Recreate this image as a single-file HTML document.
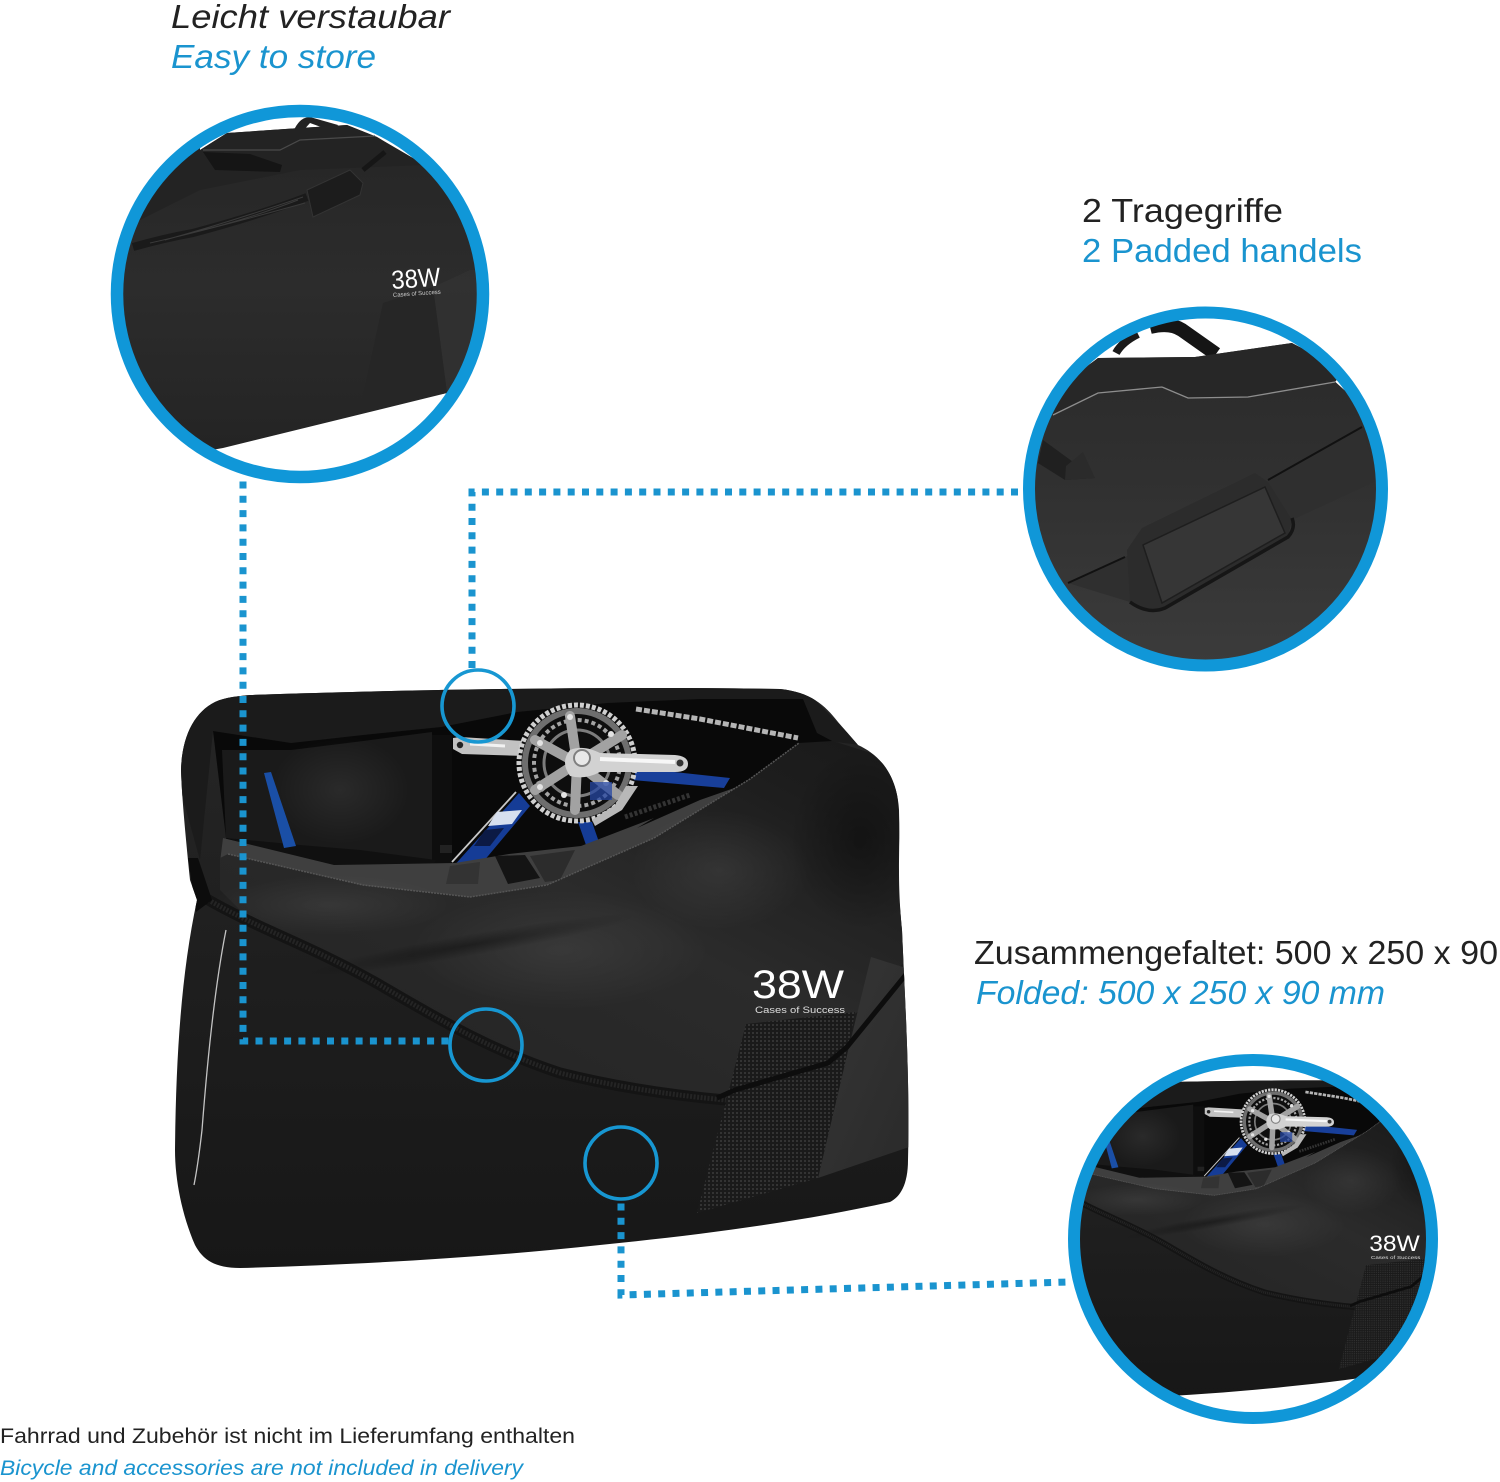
<!DOCTYPE html>
<html><head><meta charset="utf-8"><style>
html,body{margin:0;padding:0;background:#fff}
svg{display:block}
text{font-family:"Liberation Sans",sans-serif}
</style></head><body>
<svg width="1500" height="1482" viewBox="0 0 1500 1482" xmlns="http://www.w3.org/2000/svg">
<defs>
<linearGradient id="body" x1="0" y1="0" x2="0" y2="1"><stop offset="0" stop-color="#262626"/><stop offset=".5" stop-color="#1e1e1e"/><stop offset="1" stop-color="#171717"/></linearGradient>
<linearGradient id="flap" x1="0" y1="1" x2="1" y2="0"><stop offset="0" stop-color="#222"/><stop offset=".55" stop-color="#2b2b2b"/><stop offset=".85" stop-color="#1d1d1d"/><stop offset="1" stop-color="#191919"/></linearGradient>
<linearGradient id="panel" x1="0" y1="0" x2="1" y2="1"><stop offset="0" stop-color="#363636"/><stop offset="1" stop-color="#2a2a2a"/></linearGradient>
<linearGradient id="c1g" x1="0" y1="0" x2="0" y2="1"><stop offset="0" stop-color="#242424"/><stop offset=".5" stop-color="#2c2c2c"/><stop offset="1" stop-color="#232323"/></linearGradient>
<linearGradient id="c2g" x1="0" y1="0" x2="0" y2="1"><stop offset="0" stop-color="#2a2a2a"/><stop offset=".45" stop-color="#313131"/><stop offset="1" stop-color="#3c3c3c"/></linearGradient>
<radialGradient id="lite"><stop offset="0" stop-color="#fff" stop-opacity=".07"/><stop offset="1" stop-color="#fff" stop-opacity="0"/></radialGradient>
<radialGradient id="dark"><stop offset="0" stop-color="#000" stop-opacity=".35"/><stop offset="1" stop-color="#000" stop-opacity="0"/></radialGradient>
<pattern id="mesh" width="4" height="4" patternUnits="userSpaceOnUse"><rect width="4" height="4" fill="#1a1a1a"/><rect width="2" height="2" fill="#333"/></pattern>
<clipPath id="c1"><circle cx="300" cy="294" r="178"/></clipPath>
<clipPath id="c2"><circle cx="1205.5" cy="489" r="171"/></clipPath>
<clipPath id="c3"><circle cx="1253" cy="1239" r="174"/></clipPath>
<clipPath id="bagclip"><path d="M250 695C400 690 600 686 780 689C810 692 825 705 838 722L858 745C880 755 897 775 899 810C900 860 897 880 902 930C905 1000 910 1080 908 1160C908 1185 900 1197 890 1202C800 1222 700 1235 600 1245C480 1258 350 1265 240 1268C215 1268 203 1260 195 1245C182 1215 175 1180 175 1150C176 1050 182 970 197 900L190 880C186 840 182 800 181 770C182 735 195 712 215 702C225 697 240 696 250 695Z"/></clipPath>

<g id="bag">
  <path d="M250 695C400 690 600 686 780 689C810 692 825 705 838 722L858 745C880 755 897 775 899 810C900 860 897 880 902 930C905 1000 910 1080 908 1160C908 1185 900 1197 890 1202C800 1222 700 1235 600 1245C480 1258 350 1265 240 1268C215 1268 203 1260 195 1245C182 1215 175 1180 175 1150C176 1050 182 970 197 900L190 880C186 840 182 800 181 770C182 735 195 712 215 702C225 697 240 696 250 695Z" fill="url(#body)"/>
  <g clip-path="url(#bagclip)">
    <!-- back top band -->
    <path d="M175 770L190 710L250 690L800 685L860 745L820 740L803 700L700 700L607 703L517 712L441 727L363 735L291 743L213 731L200 860Z" fill="#1b1b1b"/>
    <!-- interior -->
    <path d="M213 731L291 743L363 735L441 727L517 712L607 703L700 699L803 699L817 733L834 742L750 779L654 838L547 885L470 897L363 885L228 854Z" fill="#090909"/>
    <path d="M222 750L291 750L363 741L432 732L436 862L334 865L226 838Z" fill="#1a1a1a"/>
    <ellipse cx="340" cy="790" rx="70" ry="55" fill="url(#lite)"/>
    <rect x="432" y="735" width="20" height="130" fill="#0e0e0e"/>
    <path d="M440 845h12v8h-12z" fill="#222"/>
    <path d="M226 838L300 845L360 850L436 860L430 872L340 872Z" fill="#101010"/>
    <!-- blue fork -->
    <path d="M264 773L271 772L296 846L284 848Z" fill="#1a4fa6"/>
    <!-- lower chain -->
    <path d="M625 817L690 795" stroke="#333" stroke-width="5" stroke-dasharray="3 2"/>
    <!-- blue frame -->
    <path d="M519 793L530 806L478 868L452 868Z" fill="#153c96"/>
    <path d="M516 792L452 862" stroke="#c9c9c9" stroke-width="1.8"/>
    <path d="M497 812L522 810L512 824L488 826Z" fill="#d7e0ef"/>
    <path d="M485 830L504 828L490 846L474 846Z" fill="#0c1a45"/>
    <path d="M637 768L730 778L724 788L632 780Z" fill="#183f9a"/>
    <path d="M578 822L592 822L600 845L586 845Z" fill="#153c96"/>
    <!-- left crank -->
    <path d="M453 738L460 737L525 741L525 756L462 754L453 749Z" fill="#c2c2c2"/>
    <path d="M470 744L505 746" stroke="#f2f2f2" stroke-width="3"/>
    <circle cx="460" cy="745" r="3.2" fill="#222"/>
    <!-- chain -->
    <path d="M636 709L700 719L798 738" stroke="#b5b5b5" stroke-width="5" stroke-dasharray="6 2" fill="none"/>
    <!-- chainring -->
    <circle cx="577" cy="763" r="59" fill="#0e0e0e"/>
    <circle cx="577" cy="763" r="58" fill="none" stroke="#cfcfcf" stroke-width="5" stroke-dasharray="4 2"/>
    <circle cx="577" cy="763" r="52" fill="none" stroke="#6e6e6e" stroke-width="6"/>
    <circle cx="577" cy="763" r="43" fill="none" stroke="#a4a4a4" stroke-width="4" stroke-dasharray="4 3"/>
    <circle cx="577" cy="763" r="33" fill="none" stroke="#7c7c7c" stroke-width="3"/>
    <g stroke="#a2a2a2" stroke-width="10" stroke-linecap="round">
      <path d="M577 763L570 716"/><path d="M577 763L622 735"/><path d="M577 763L535 740"/><path d="M577 763L618 795"/><path d="M577 763L535 790"/><path d="M577 763L575 810"/>
    </g>
    <g fill="#e3e3e3"><circle cx="570" cy="717" r="3"/><circle cx="540" cy="743" r="3"/><circle cx="611" cy="734" r="3"/><circle cx="606" cy="783" r="3"/><circle cx="540" cy="787" r="3"/><circle cx="564" cy="795" r="3"/></g>
    <path d="M590 782h22v18h-22z" fill="#2547a3" opacity=".75"/>
    <!-- right crank -->
    <path d="M570 750C580 746 590 748 600 753L675 755Q688 756 688 764Q688 772 675 772L600 772Q585 780 570 776Q560 762 570 750Z" fill="#d2d2d2"/>
    <path d="M600 759L675 762" stroke="#f7f7f7" stroke-width="4"/>
    <circle cx="582" cy="758" r="8" fill="#e8e8e8" stroke="#808080" stroke-width="2"/>
    <circle cx="680" cy="763" r="3.5" fill="#333"/>
    <path d="M626 786L638 786L622 810L595 826L592 820L615 805Z" fill="#b8b8b8"/>
    <!-- lining -->
    <path d="M223 838L334 865L455 863L509 854L581 846L654 818L637 828L700 800L760 779L720 830L600 890L470 905L300 890L220 862Z" fill="#3f3f3f"/>
    <path d="M450 866L480 862L478 884L446 884Z" fill="#333"/>
    <path d="M495 856L525 855L540 878L508 884Z" fill="#141414"/>
    <path d="M530 856L575 850L560 880L545 882Z" fill="#2c2c2c"/>
    <!-- front flap -->
    <path d="M220 858L228 854L363 885L470 897L547 885L654 838L750 779L799 743L833 741L871 753L896 775L900 830L897 880L906 960L860 1010L740 1100L557 1071L460 1028L339 964L255 925L220 890Z" fill="url(#flap)"/>
    <path d="M228 854L363 885L470 897L547 885L654 838L750 779L799 743" fill="none" stroke="#555" stroke-width="1.5" stroke-dasharray="2 1"/>
    <ellipse cx="860" cy="840" rx="70" ry="90" fill="url(#dark)"/>
    <ellipse cx="720" cy="870" rx="90" ry="60" fill="url(#lite)"/>
    <ellipse cx="330" cy="905" rx="120" ry="30" fill="url(#lite)"/>
    <ellipse cx="560" cy="950" rx="150" ry="60" fill="url(#lite)"/>
    <ellipse cx="470" cy="945" rx="170" ry="11" fill="url(#dark)" transform="rotate(-10 470 945)"/>
    <!-- panels -->
    <path d="M871 957L906 968L912 1146L818 1178L847 1055Z" fill="url(#panel)"/>
    <path d="M746 1024L855 1012L847 1055L818 1178L697 1213Z" fill="url(#mesh)"/>
    <!-- strap -->
    <path d="M205 898C260 930 310 945 380 985C440 1020 490 1050 560 1073C620 1088 680 1096 726 1100" fill="none" stroke="#141414" stroke-width="11"/>
    <path d="M205 898C260 930 310 945 380 985C440 1020 490 1050 560 1073C620 1088 680 1096 726 1100" fill="none" stroke="#242424" stroke-width="5" stroke-dasharray="2 1.5"/>
    <path d="M717 1098L735 1090L828 1063L847 1047L908 972" fill="none" stroke="#0d0d0d" stroke-width="5"/>
    <path d="M188 858L198 858L212 900L196 912Z" fill="#0c0c0c"/>
    <!-- reflective piping -->
    <path d="M226 930Q212 1000 202 1130Q198 1165 194 1185" fill="none" stroke="#c4c4c4" stroke-width="1.3"/>
    <!-- logo -->
    <text x="752" y="998" fill="#fff" font-size="40" textLength="92" lengthAdjust="spacingAndGlyphs">38W</text>
    <text x="755" y="1013" fill="#ddd" font-size="9" textLength="90" lengthAdjust="spacingAndGlyphs">Cases of Success</text>
  </g>
</g>
</defs>

<rect width="1500" height="1482" fill="#fff"/>

<!-- main bag -->
<use href="#bag"/>

<!-- dotted connectors -->
<g fill="none" stroke="#1a94cf" stroke-width="7" stroke-dasharray="7 7.3">
  <path d="M243 481.5V1041H449"/>
  <path d="M472 668V492H1023"/>
  <path d="M621 1203.5V1295L1068 1282"/>
</g>

<!-- focus circles -->
<g fill="none" stroke="#1797d2" stroke-width="3.6">
  <circle cx="478" cy="706" r="36"/>
  <circle cx="486" cy="1045" r="36"/>
  <circle cx="621" cy="1163" r="36"/>
</g>

<!-- detail 1 -->
<g clip-path="url(#c1)">
  <path d="M294 130Q300 117 310 117L338 125L332 131L310 123L302 132Z" fill="#222"/>
  <path d="M100 100H200V150L227 133L300 128L347 125L377 137L445 180L500 270V393H447L223 448L100 470Z" fill="url(#c1g)"/>
  <path d="M100 100H200V150L227 133L300 128L347 125L377 137L425 165L300 170L200 190L100 240Z" fill="#232323"/>
  <path d="M203 150L280 150L300 140L375 136" fill="none" stroke="#4a4a4a" stroke-width="1.2"/>
  <path d="M203 152L250 154L282 165L280 172L215 170Z" fill="#151515"/>
  <path d="M133 247Q165 238 193 233Q260 215 307 197" fill="none" stroke="#1a1a1a" stroke-width="8"/>
  <path d="M150 243Q200 232 305 203M165 240Q230 222 303 197M190 233Q240 222 298 200" fill="none" stroke="#3a3a3a" stroke-width="1"/>
  <path d="M307 190L350 170L363 183L360 195L313 217Z" fill="#1c1c1c" stroke="#333" stroke-width="1"/>
  <path d="M363 170L385 152" stroke="#161616" stroke-width="5"/>
  <path d="M433 287L470 270L500 270V393H447Z" fill="#333" opacity=".75"/>
  <path d="M383 303L433 287L447 393L360 410Z" fill="#262626"/>
  <text x="392" y="289" fill="#fff" font-size="26" textLength="49" lengthAdjust="spacingAndGlyphs" transform="rotate(-4 392 289)">38W</text>
  <text x="393" y="297" fill="#ccc" font-size="6" textLength="48" lengthAdjust="spacingAndGlyphs" transform="rotate(-4 393 297)">Cases of Success</text>
</g>
<circle cx="300" cy="294" r="183" fill="none" stroke="#1097d8" stroke-width="12.5"/>

<!-- detail 2 -->
<g clip-path="url(#c2)">
  <path d="M1116 353Q1122 342 1138 334" fill="none" stroke="#1a1a1a" stroke-width="8"/>
  <path d="M1150 327Q1170 322 1182 330L1216 354" fill="none" stroke="#151515" stroke-width="14"/>
  <path d="M1098 358L1195 357L1292 343L1400 440V680H1000V430Z" fill="url(#c2g)"/>
  <path d="M1053 415L1098 393L1162 387L1188 398L1248 397L1335 382L1345 370L1292 343L1195 357L1098 358L1040 405Z" fill="#272727"/>
  <path d="M1053 415L1098 393L1162 387M1162 387L1188 398L1248 397L1335 382" fill="none" stroke="#8d8d8d" stroke-width="1.3"/>
  <path d="M1043 440L1095 478L1065 480L1038 463Z" fill="#202020"/>
  <path d="M1066 466L1083 452L1095 478L1065 480Z" fill="#2b2b2b"/>
  <path d="M1068 583L1125 557L1268 482L1362 427L1378 480L1292 520L1130 602Z" fill="#2f2f2f"/>
  <path d="M1068 583L1125 557M1268 480L1362 427" stroke="#111" stroke-width="2" fill="none"/>
  <path d="M1127 550L1142 528L1255 473L1268 482L1292 520L1288 537L1165 610L1142 608L1130 602Z" fill="#2c2c2c"/>
  <path d="M1143 545L1265 487L1285 533L1162 603Z" fill="#363636" stroke="#1e1e1e" stroke-width="1.5"/>
  <path d="M1130 602Q1148 615 1165 608L1288 537Q1296 528 1292 518" fill="none" stroke="#161616" stroke-width="3.5"/>
</g>
<circle cx="1205.5" cy="489" r="176.5" fill="none" stroke="#1097d8" stroke-width="12"/>

<!-- detail 3 -->
<g clip-path="url(#c3)">
  <g transform="translate(955.6 702) scale(.55)"><use href="#bag"/></g>
</g>
<circle cx="1253" cy="1239" r="179" fill="none" stroke="#1097d8" stroke-width="12"/>

<!-- labels -->
<text x="171" y="28" font-size="33" font-style="italic" fill="#222" textLength="279" lengthAdjust="spacingAndGlyphs">Leicht verstaubar</text>
<text x="171" y="68" font-size="33" font-style="italic" fill="#1a94cf" textLength="205" lengthAdjust="spacingAndGlyphs">Easy to store</text>
<text x="1082" y="222" font-size="33" fill="#222" textLength="201" lengthAdjust="spacingAndGlyphs">2 Tragegriffe</text>
<text x="1082" y="262" font-size="33" fill="#1a94cf" textLength="280" lengthAdjust="spacingAndGlyphs">2 Padded handels</text>
<text x="974" y="964" font-size="33" fill="#222" textLength="524" lengthAdjust="spacingAndGlyphs">Zusammengefaltet: 500 x 250 x 90</text>
<text x="976" y="1004" font-size="33" font-style="italic" fill="#1a94cf" textLength="409" lengthAdjust="spacingAndGlyphs">Folded: 500 x 250 x 90 mm</text>
<text x="0" y="1443" font-size="21" fill="#222" textLength="575" lengthAdjust="spacingAndGlyphs">Fahrrad und Zubehör ist nicht im Lieferumfang enthalten</text>
<text x="0" y="1475" font-size="21" font-style="italic" fill="#1a94cf" textLength="523" lengthAdjust="spacingAndGlyphs">Bicycle and accessories are not included in delivery</text>
</svg>
</body></html>
